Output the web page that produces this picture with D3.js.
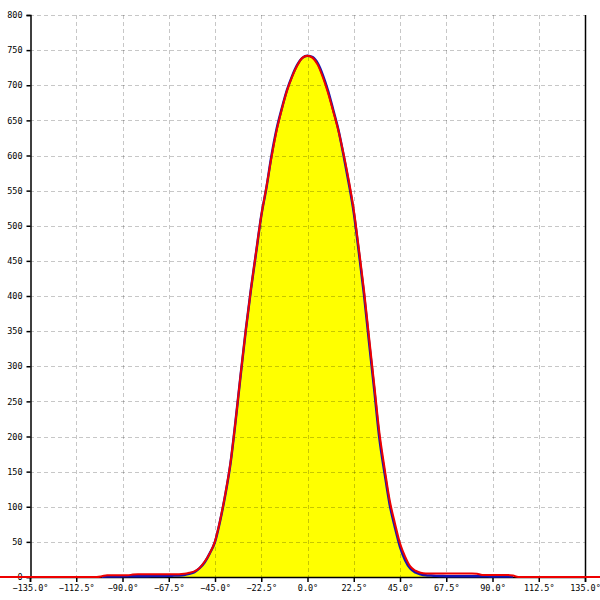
<!DOCTYPE html>
<html><head><meta charset="utf-8">
<script src="https://cdn.jsdelivr.net/npm/d3@7"></script>
<style>body{margin:0;background:#fff}</style>
</head><body><svg id="c" width="600" height="600"></svg>
<script>
const xTicks = [-135, -112.5, -90, -67.5, -45, -22.5, 0, 22.5, 45, 67.5, 90, 112.5, 135];
const yTicks = [0, 50, 100, 150, 200, 250, 300, 350, 400, 450, 500, 550, 600, 650, 700, 750, 800];

const blueAngles = [-100,-97.5,-95,-92.5,-90,-87.5,-85,-82.5,-80,-77.5,-75,-72.5,-70,-67.5,-65,-62.5,-60,-57.5,-55,-52.5,-50,-47.5,-45,-42.5,-40,-37.5,-35,-32.5,-30,-27.5,-25,-22.5,-20,-17.5,-15,-12.5,-10,-7.5,-5,-2.5,0,2.5,5,7.5,10,12.5,15,17.5,20,22.5,25,27.5,30,32.5,35,37.5,40,42.5,45,47.5,50,52.5,55,57.5,60,62.5,65,67.5,70,72.5,75,77.5,80,82.5,85,87.5,90,92.5,95,97.5,100];
const blueValues = [0.5,0.6,0.7,0.8,0.9,1.0,1.0,1.1,1.2,1.2,1.3,1.4,1.5,1.7,2.0,2.3,3,4.5,7,12.5,21,34,50,80,117,161,222,288,352,410,462,514,554,600,638,667,693,713,729,739,742,740,731,714,692,665,637,601,562,519,462,402,333,266,197,148,103,71,43,24,12,6.5,4,2.5,2,1.6,1.4,1.2,1.1,1.0,1.0,1.0,1.0,0.9,0.9,0.9,0.8,0.8,0.8,0.7,0.6];

const redAngles = [-150,-102.5,-100,-97.5,-95,-92.5,-90,-87.5,-85,-82.5,-80,-77.5,-75,-72.5,-70,-67.5,-65,-62.5,-60,-57.5,-55,-52.5,-50,-47.5,-45,-42.5,-40,-37.5,-35,-32.5,-30,-27.5,-25,-22.5,-20,-17.5,-15,-12.5,-10,-7.5,-5,-2.5,0,2.5,5,7.5,10,12.5,15,17.5,20,22.5,25,27.5,30,32.5,35,37.5,40,42.5,45,47.5,50,52.5,55,57.5,60,62.5,65,67.5,70,72.5,75,77.5,80,82.5,85,87.5,90,92.5,95,97.5,100,102.5,150];
const redValues = [0,0,1,2.5,2.5,2.5,2.5,2.5,3.5,4,4,4,4,4,4,4,4,4,4.5,6,8,13,22,34,51,81,118,162,222,289,352,410,463,514,555,598,636,666,692,712,728,739,742,739,729,711,689,663,636,603,566,523,467,408,340,273,205,155,109,77,48,29,15,9,6,5,5,5,5,5,5,5,5,5,5,4.5,3,3,3,3,3,3,2,0,0];

const svg = d3.select('#c');
const x = d3.scaleLinear().domain([-135, 135]).range([30, 585]);
const y = d3.scaleLinear().domain([0, 800]).range([577, 15]);
const font = '"DejaVu Sans Mono", monospace';

const blue = blueAngles.map((a, i) => ({a, v: blueValues[i]}));
const red = redAngles.map((a, i) => ({a, v: redValues[i]}));
const curve = d3.curveMonotoneX;

// yellow fill
svg.append('path').datum(blue)
  .attr('fill', '#ffff00')
  .attr('d', d3.area().curve(curve).x(d => x(d.a)).y0(y(0)).y1(d => y(d.v)));

// grid
const grid = svg.append('g').attr('stroke', '#000').attr('stroke-opacity', 0.22)
  .attr('stroke-dasharray', '4,3').attr('stroke-width', 1);
grid.selectAll('line.h').data(yTicks.filter(t => t > 0)).enter().append('line')
  .attr('x1', 30).attr('x2', 585)
  .attr('y1', d => Math.round(y(d)) + 0.5).attr('y2', d => Math.round(y(d)) + 0.5);
grid.selectAll('line.v').data(xTicks.filter(t => t > -135 && t < 135)).enter().append('line')
  .attr('y1', 15).attr('y2', 577)
  .attr('x1', d => Math.round(x(d)) + 0.5).attr('x2', d => Math.round(x(d)) + 0.5);

// right border
svg.append('line').attr('x1', 585.5).attr('x2', 585.5).attr('y1', 15).attr('y2', 577)
  .attr('stroke', '#000').attr('stroke-width', 1.5);

// axes
const yAxis = d3.axisLeft(y).tickValues(yTicks).tickSize(4).tickPadding(4).tickFormat(d3.format('d'));
const gy = svg.append('g').attr('transform', 'translate(30.5,0)').call(yAxis);
const xAxis = d3.axisBottom(x).tickValues(xTicks).tickSize(5).tickPadding(3).tickFormat(d => d3.format('.1f')(d) + '°');
const gx = svg.append('g').attr('transform', 'translate(0,' + y(0) + ')').call(xAxis);
[gy, gx].forEach(g => {
  g.selectAll('path').attr('stroke', '#000').attr('stroke-width', 1.5);
  g.selectAll('line').attr('stroke', '#000').attr('stroke-width', 1.5);
  g.selectAll('text').attr('font-family', font).attr('font-size', 8.5).attr('fill', '#000');
});

// lines
const line = d3.line().curve(curve).x(d => x(d.a)).y(d => y(d.v));
svg.append('path').datum(blue).attr('fill', 'none').attr('stroke', '#1414b4')
  .attr('stroke-width', 2.5).attr('stroke-linejoin', 'round').attr('d', line);
svg.append('path').datum(red).attr('fill', 'none').attr('stroke', '#ee0000')
  .attr('stroke-width', 2).attr('stroke-linejoin', 'round').attr('d', line);
</script>
</body></html>
